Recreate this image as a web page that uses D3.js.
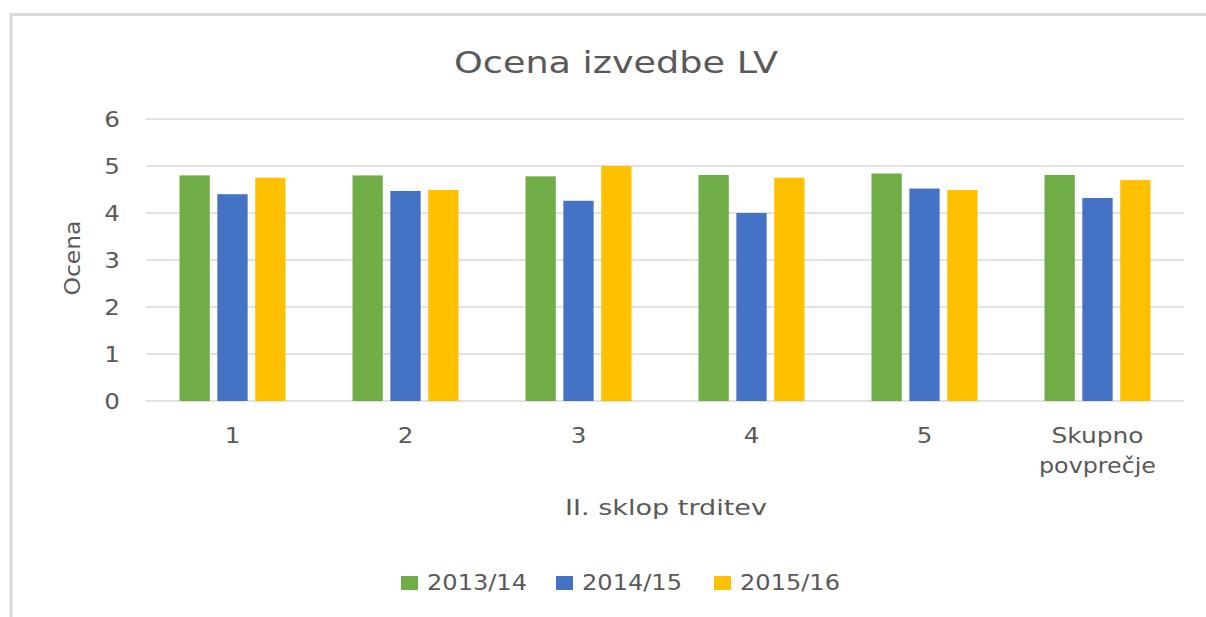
<!DOCTYPE html>
<html>
<head>
<meta charset="utf-8">
<script src="https://cdn.jsdelivr.net/npm/d3@7"></script>
<style>
  html, body { margin: 0; padding: 0; background: #fff; }
  svg { display: block; }
  text { font-family: "DejaVu Sans", "Open Sans", sans-serif; fill: #595959; }
</style>
</head>
<body>
<svg id="chart" width="1206" height="617"></svg>
<script>
const categories = ["1", "2", "3", "4", "5", "Skupno povprečje"];
const seriesNames = ["2013/14", "2014/15", "2015/16"];
const values2013 = [4.80, 4.80, 4.78, 4.81, 4.84, 4.81];
const values2014 = [4.40, 4.47, 4.26, 4.00, 4.52, 4.32];
const values2015 = [4.75, 4.49, 5.00, 4.75, 4.49, 4.70];
const yTicks = [0, 1, 2, 3, 4, 5, 6];
const colors = ["#70AD47", "#4472C4", "#FFC000"];
const titleText = "Ocena izvedbe LV";
const xTitle = "II. sklop trditev";
const yTitle = "Ocena";

const series = [values2013, values2014, values2015];

const svg = d3.select("#chart");

// chart area border (left + top)
svg.append("path")
  .attr("d", "M11,617 L11,14.5 L1206,14.5")
  .attr("fill", "none")
  .attr("stroke", "#D9D9D9")
  .attr("stroke-width", 3);

const plot = { left: 146, right: 1184, top: 119, bottom: 401 };

const x0 = d3.scaleBand().domain(categories).range([plot.left, plot.right]).padding(0);
const groupW = 106;
const x1 = d3.scaleBand().domain(seriesNames).range([0, groupW]).paddingInner(0.2).paddingOuter(0);
const y = d3.scaleLinear().domain([0, 6]).range([plot.bottom, plot.top]);

// gridlines
svg.append("g")
  .selectAll("line")
  .data(yTicks)
  .join("line")
  .attr("x1", plot.left).attr("x2", plot.right)
  .attr("y1", d => y(d)).attr("y2", d => y(d))
  .attr("stroke", "#D9D9D9")
  .attr("stroke-width", 1.5);

// y-axis labels via d3 axis
const yAxis = svg.append("g")
  .attr("transform", `translate(${plot.left},0)`)
  .call(d3.axisLeft(y).tickValues(yTicks).tickSize(0).tickPadding(26).tickFormat(d3.format("d")));
yAxis.select(".domain").remove();
yAxis.selectAll("text")
  .attr("font-size", 22)
  .attr("fill", "#595959")
  .attr("transform", "scale(1.12,1)")
  .style("font-family", "'DejaVu Sans', sans-serif");
yAxis.selectAll(".tick text").attr("x", -26 / 1.12);

// bars
const groups = svg.append("g")
  .selectAll("g")
  .data(categories)
  .join("g")
  .attr("transform", d => `translate(${x0(d) + (x0.bandwidth() - groupW) / 2},0)`);

groups.selectAll("rect")
  .data((d, i) => seriesNames.map((s, k) => ({ s, k, v: series[k][i] })))
  .join("rect")
  .attr("x", d => x1(d.s))
  .attr("width", x1.bandwidth())
  .attr("y", d => y(d.v))
  .attr("height", d => y(0) - y(d.v))
  .attr("fill", d => colors[d.k]);

// x-axis labels
const wordLen = { "Skupno": 92, "povprečje": 117 };
const xAxis = svg.append("g")
  .attr("transform", `translate(0,${plot.bottom})`)
  .call(d3.axisBottom(x0).tickSize(0).tickFormat(""));
xAxis.select(".domain").remove();
xAxis.selectAll(".tick").each(function(d) {
  const g = d3.select(this);
  const words = d.split(" ");
  if (words.length === 1) {
    g.append("text")
      .attr("text-anchor", "middle")
      .attr("font-size", 22)
      .attr("fill", "#595959")
      .attr("transform", "scale(1.12,1)")
      .attr("y", 42).text(d);
  } else {
    words.forEach((w, k) => {
      g.append("text")
        .attr("text-anchor", "middle")
        .attr("font-size", 22)
        .attr("fill", "#595959")
        .attr("x", -wordLen[w] / 2)
        .attr("text-anchor", "start")
        .attr("y", 42 + 30 * k)
        .attr("textLength", wordLen[w])
        .attr("lengthAdjust", "spacingAndGlyphs")
        .text(w);
    });
  }
});

// title
svg.append("text")
  .attr("x", 616).attr("y", 73)
  .attr("text-anchor", "middle")
  .attr("font-size", 31)
  .attr("textLength", 324)
  .attr("lengthAdjust", "spacingAndGlyphs")
  .text(titleText);

// axis titles
svg.append("text")
  .attr("x", 666).attr("y", 515)
  .attr("text-anchor", "middle")
  .attr("font-size", 21)
  .attr("textLength", 202)
  .attr("lengthAdjust", "spacingAndGlyphs")
  .text(xTitle);

svg.append("text")
  .attr("transform", "translate(80,258) rotate(-90)")
  .attr("text-anchor", "middle")
  .attr("font-size", 21)
  .attr("textLength", 75)
  .attr("lengthAdjust", "spacingAndGlyphs")
  .text(yTitle);

// legend
const legendX = [401, 556, 714];
const legend = svg.append("g")
  .selectAll("g")
  .data(seriesNames)
  .join("g")
  .attr("transform", (d, i) => `translate(${legendX[i]},0)`);
legend.append("rect")
  .attr("x", 0).attr("y", 576)
  .attr("width", 17).attr("height", 14)
  .attr("fill", (d, i) => colors[i]);
legend.append("text")
  .attr("x", 26).attr("y", 590)
  .attr("font-size", 22)
  .attr("textLength", 100)
  .attr("lengthAdjust", "spacingAndGlyphs")
  .text(d => d);
</script>
</body>
</html>
